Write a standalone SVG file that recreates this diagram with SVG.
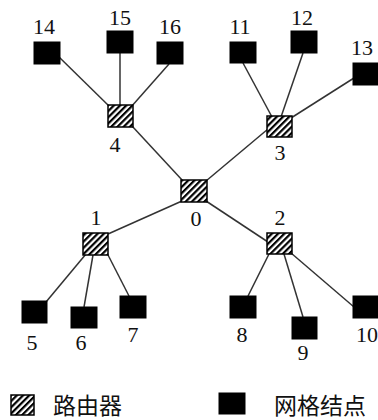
<svg xmlns="http://www.w3.org/2000/svg" width="378" height="420" viewBox="0 0 378 420">
  <defs>
    <!-- diagonal "///" hatching for routers -->
    <pattern id="hatch" patternUnits="userSpaceOnUse" width="4.4" height="4.4" patternTransform="rotate(45)">
      <rect x="0" y="0" width="4.4" height="4.4" fill="#fff"/>
      <rect x="0" y="0" width="2.2" height="4.4" fill="#000"/>
    </pattern>
    <style>
      .link { stroke: #333; stroke-width: 1.5; fill: none; }
      .router { fill: url(#hatch); stroke: #000; stroke-width: 1.5; }
      .mesh { fill: #000; stroke: #000; stroke-width: 1; }
      .lbl { font-family: "Liberation Serif", "Times New Roman", serif; font-size: 22px; fill: #111; text-anchor: middle; }
      .leg { font-family: "Noto Sans CJK SC", "Noto Sans", sans-serif; font-size: 23px; fill: #111; }
    </style>
  </defs>
  <rect width="378" height="420" fill="#fff"/>

  <g id="connectors">
    <line class="link" x1="58" y1="56" x2="110" y2="107"/>
    <line class="link" x1="120" y1="53" x2="120" y2="105"/>
    <line class="link" x1="169" y1="64" x2="131" y2="107"/>
    <line class="link" x1="132" y1="126" x2="183" y2="181"/>
    <line class="link" x1="243" y1="63" x2="272" y2="117"/>
    <line class="link" x1="303" y1="53" x2="281" y2="117"/>
    <line class="link" x1="354" y1="78" x2="291" y2="118"/>
    <line class="link" x1="268" y1="129" x2="206" y2="181"/>
    <line class="link" x1="108" y1="234" x2="182" y2="201"/>
    <line class="link" x1="86" y1="254" x2="46" y2="302"/>
    <line class="link" x1="93" y1="255" x2="84" y2="307"/>
    <line class="link" x1="107" y1="253" x2="129" y2="296"/>
    <line class="link" x1="268" y1="242" x2="206" y2="201"/>
    <line class="link" x1="269" y1="254" x2="248" y2="296"/>
    <line class="link" x1="284" y1="254" x2="303" y2="317"/>
    <line class="link" x1="291" y1="253" x2="354" y2="307"/>
  </g>

  <!-- routers -->
  <g id="r0"><rect class="router" x="181" y="180" width="26" height="22"/><text class="lbl" x="196" y="226">0</text></g>
  <g id="r1"><rect class="router" x="83" y="233" width="25" height="22"/><text class="lbl" x="96" y="225">1</text></g>
  <g id="r2"><rect class="router" x="267" y="233" width="25" height="21"/><text class="lbl" x="280" y="225">2</text></g>
  <g id="r3"><rect class="router" x="267" y="116" width="25" height="21"/><text class="lbl" x="280" y="160">3</text></g>
  <g id="r4"><rect class="router" x="108" y="105" width="25" height="22"/><text class="lbl" x="115" y="152">4</text></g>

  <!-- mesh nodes -->
  <g id="n5"><rect class="mesh" x="22" y="301" width="25" height="22"/><text class="lbl" x="32" y="350">5</text></g>
  <g id="n6"><rect class="mesh" x="71" y="307" width="26" height="21"/><text class="lbl" x="81" y="350">6</text></g>
  <g id="n7"><rect class="mesh" x="120" y="296" width="26" height="22"/><text class="lbl" x="133" y="342">7</text></g>
  <g id="n8"><rect class="mesh" x="230" y="296" width="26" height="22"/><text class="lbl" x="242" y="342">8</text></g>
  <g id="n9"><rect class="mesh" x="292" y="317" width="25" height="22"/><text class="lbl" x="303" y="360">9</text></g>
  <g id="n10"><rect class="mesh" x="353" y="296" width="26" height="22"/><text class="lbl" x="367" y="342">10</text></g>
  <g id="n11"><rect class="mesh" x="230" y="42" width="26" height="21"/><text class="lbl" x="240" y="34">11</text></g>
  <g id="n12"><rect class="mesh" x="291" y="31" width="26" height="22"/><text class="lbl" x="302" y="25">12</text></g>
  <g id="n13"><rect class="mesh" x="353" y="63" width="26" height="22"/><text class="lbl" x="362" y="55">13</text></g>
  <g id="n14"><rect class="mesh" x="34" y="42" width="26" height="22"/><text class="lbl" x="44" y="34">14</text></g>
  <g id="n15"><rect class="mesh" x="107" y="31" width="26" height="22"/><text class="lbl" x="120" y="25">15</text></g>
  <g id="n16"><rect class="mesh" x="157" y="42" width="26" height="22"/><text class="lbl" x="170" y="34">16</text></g>

  <!-- legend -->
  <g id="legend">
    <rect class="router" x="11" y="395" width="23" height="20"/>
    <text class="leg" x="53" y="414">路由器</text>
    <rect class="mesh" x="219" y="393" width="26" height="21"/>
    <text class="leg" x="274" y="414">网格结点</text>
  </g>
</svg>
